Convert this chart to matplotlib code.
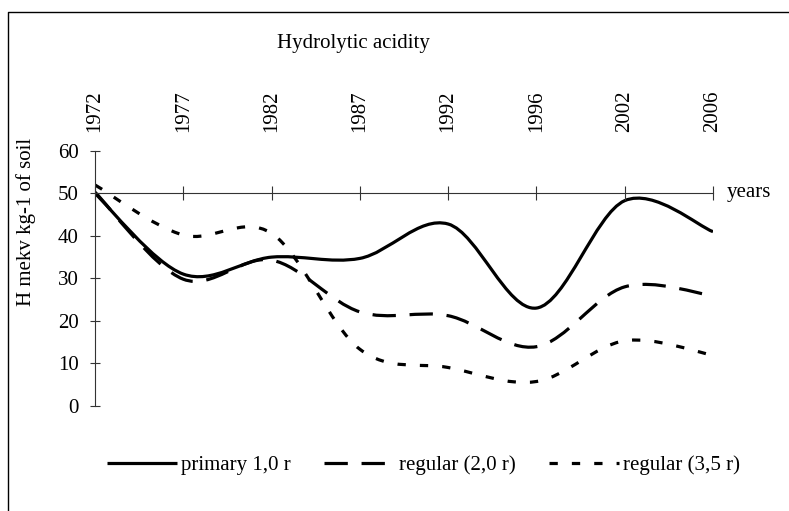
import matplotlib
matplotlib.use("Agg")
import matplotlib.pyplot as plt
from matplotlib.path import Path
from matplotlib.patches import PathPatch
from matplotlib.lines import Line2D

plt.rcParams['font.family'] = ['Liberation Serif', 'DejaVu Serif']

# ---- data ----
years = ['1972', '1977', '1982', '1987', '1992', '1996', '2002', '2006']
primary = [50, 31, 35, 34.7, 42.8, 23, 48.3, 41]
regular_20 = [50.3, 29.8, 34.3, 22.1, 21.2, 13.9, 28, 25.9]
regular_35 = [52, 40.2, 40.6, 13.3, 9, 5.7, 15.3, 11.9]
series_names = ['primary 1,0 r', 'regular (2,0 r)', 'regular (3,5 r)']
yticks = [0, 10, 20, 30, 40, 50, 60]

W, H = 789, 511
fig = plt.figure(figsize=(W / 100, H / 100), dpi=100)
ax = fig.add_axes([95 / W, 1 - 405.7 / H, (713 - 95) / W, (405.7 - 151) / H])

FS = 15


def smooth_path(ys):
    """Excel-like smoothed line: Catmull-Rom converted to cubic Bezier."""
    n = len(ys)
    pts = [(float(i), float(v)) for i, v in enumerate(ys)]
    verts = [pts[0]]
    codes = [Path.MOVETO]
    for i in range(n - 1):
        p0 = pts[i - 1] if i > 0 else pts[i]
        p1 = pts[i]
        p2 = pts[i + 1]
        p3 = pts[i + 2] if i + 2 < n else pts[i + 1]
        c1 = (p1[0] + (p2[0] - p0[0]) / 6, p1[1] + (p2[1] - p0[1]) / 6)
        c2 = (p2[0] - (p3[0] - p1[0]) / 6, p2[1] - (p3[1] - p1[1]) / 6)
        verts += [c1, c2, p2]
        codes += [Path.CURVE4] * 3
    return Path(verts, codes)


LW = 2.3
styles = ['-', (0, (7.3, 4.3)), (0, (2.6, 4.4))]
handles = []
for ys, ls, name in zip([primary, regular_20, regular_35], styles, series_names):
    patch = PathPatch(smooth_path(ys), fill=False, edgecolor='black',
                      linewidth=LW, linestyle=ls, capstyle='butt',
                      joinstyle='round')
    ax.add_patch(patch)
    handles.append(Line2D([], [], color='black', linewidth=LW, linestyle=ls,
                          solid_capstyle='butt', dash_capstyle='butt', label=name))

ax.set_xlim(0, len(years) - 1)
ax.set_ylim(0, 60)
ax.set_xticks(range(len(years)))
ax.set_xticklabels(years)
ax.set_yticks(yticks)
ax.set_yticklabels([str(t) for t in yticks])

for s in ['top', 'right']:
    ax.spines[s].set_visible(False)
ax.spines['bottom'].set_position(('data', 50))
for s in ['bottom', 'left']:
    ax.spines[s].set_linewidth(0.8)
    ax.spines[s].set_color('#333333')

ax.tick_params(axis='x', direction='inout', length=10, width=0.8, color='#333333',
               bottom=True, top=False, labelbottom=False, labeltop=True,
               labelrotation=90, labelsize=FS, pad=8.5)
ax.tick_params(axis='y', direction='inout', length=6.5, width=0.8, color='#333333',
               labelsize=FS, pad=8.5)

ax.annotate('years', xy=(len(years) - 1, 50), xytext=(10, 1),
            textcoords='offset points', ha='left', va='center', fontsize=FS)

fig.text(353 / W, 1 - 43 / H, 'Hydrolytic acidity', ha='center', va='center',
         fontsize=FS)
fig.text(26 / W, 1 - 222 / H, 'H mekv kg-1 of soil', rotation=90,
         ha='center', va='center', fontsize=FS)

fig.legend(handles=handles, loc='center left', bbox_to_anchor=(107 / W, 1 - 465 / H),
           ncol=3, frameon=False, fontsize=FS, handlelength=3.35,
           handletextpad=0.22, columnspacing=1.6, borderpad=0, borderaxespad=0)

# outer chart border (left and top edges visible)
fig.add_artist(Line2D([7.5 / W, 7.5 / W, 1.0], [0.0, 1 - 12.5 / H, 1 - 12.5 / H],
                      transform=fig.transFigure, color='black', linewidth=1.0))

fig.savefig('out.png', dpi=100)
